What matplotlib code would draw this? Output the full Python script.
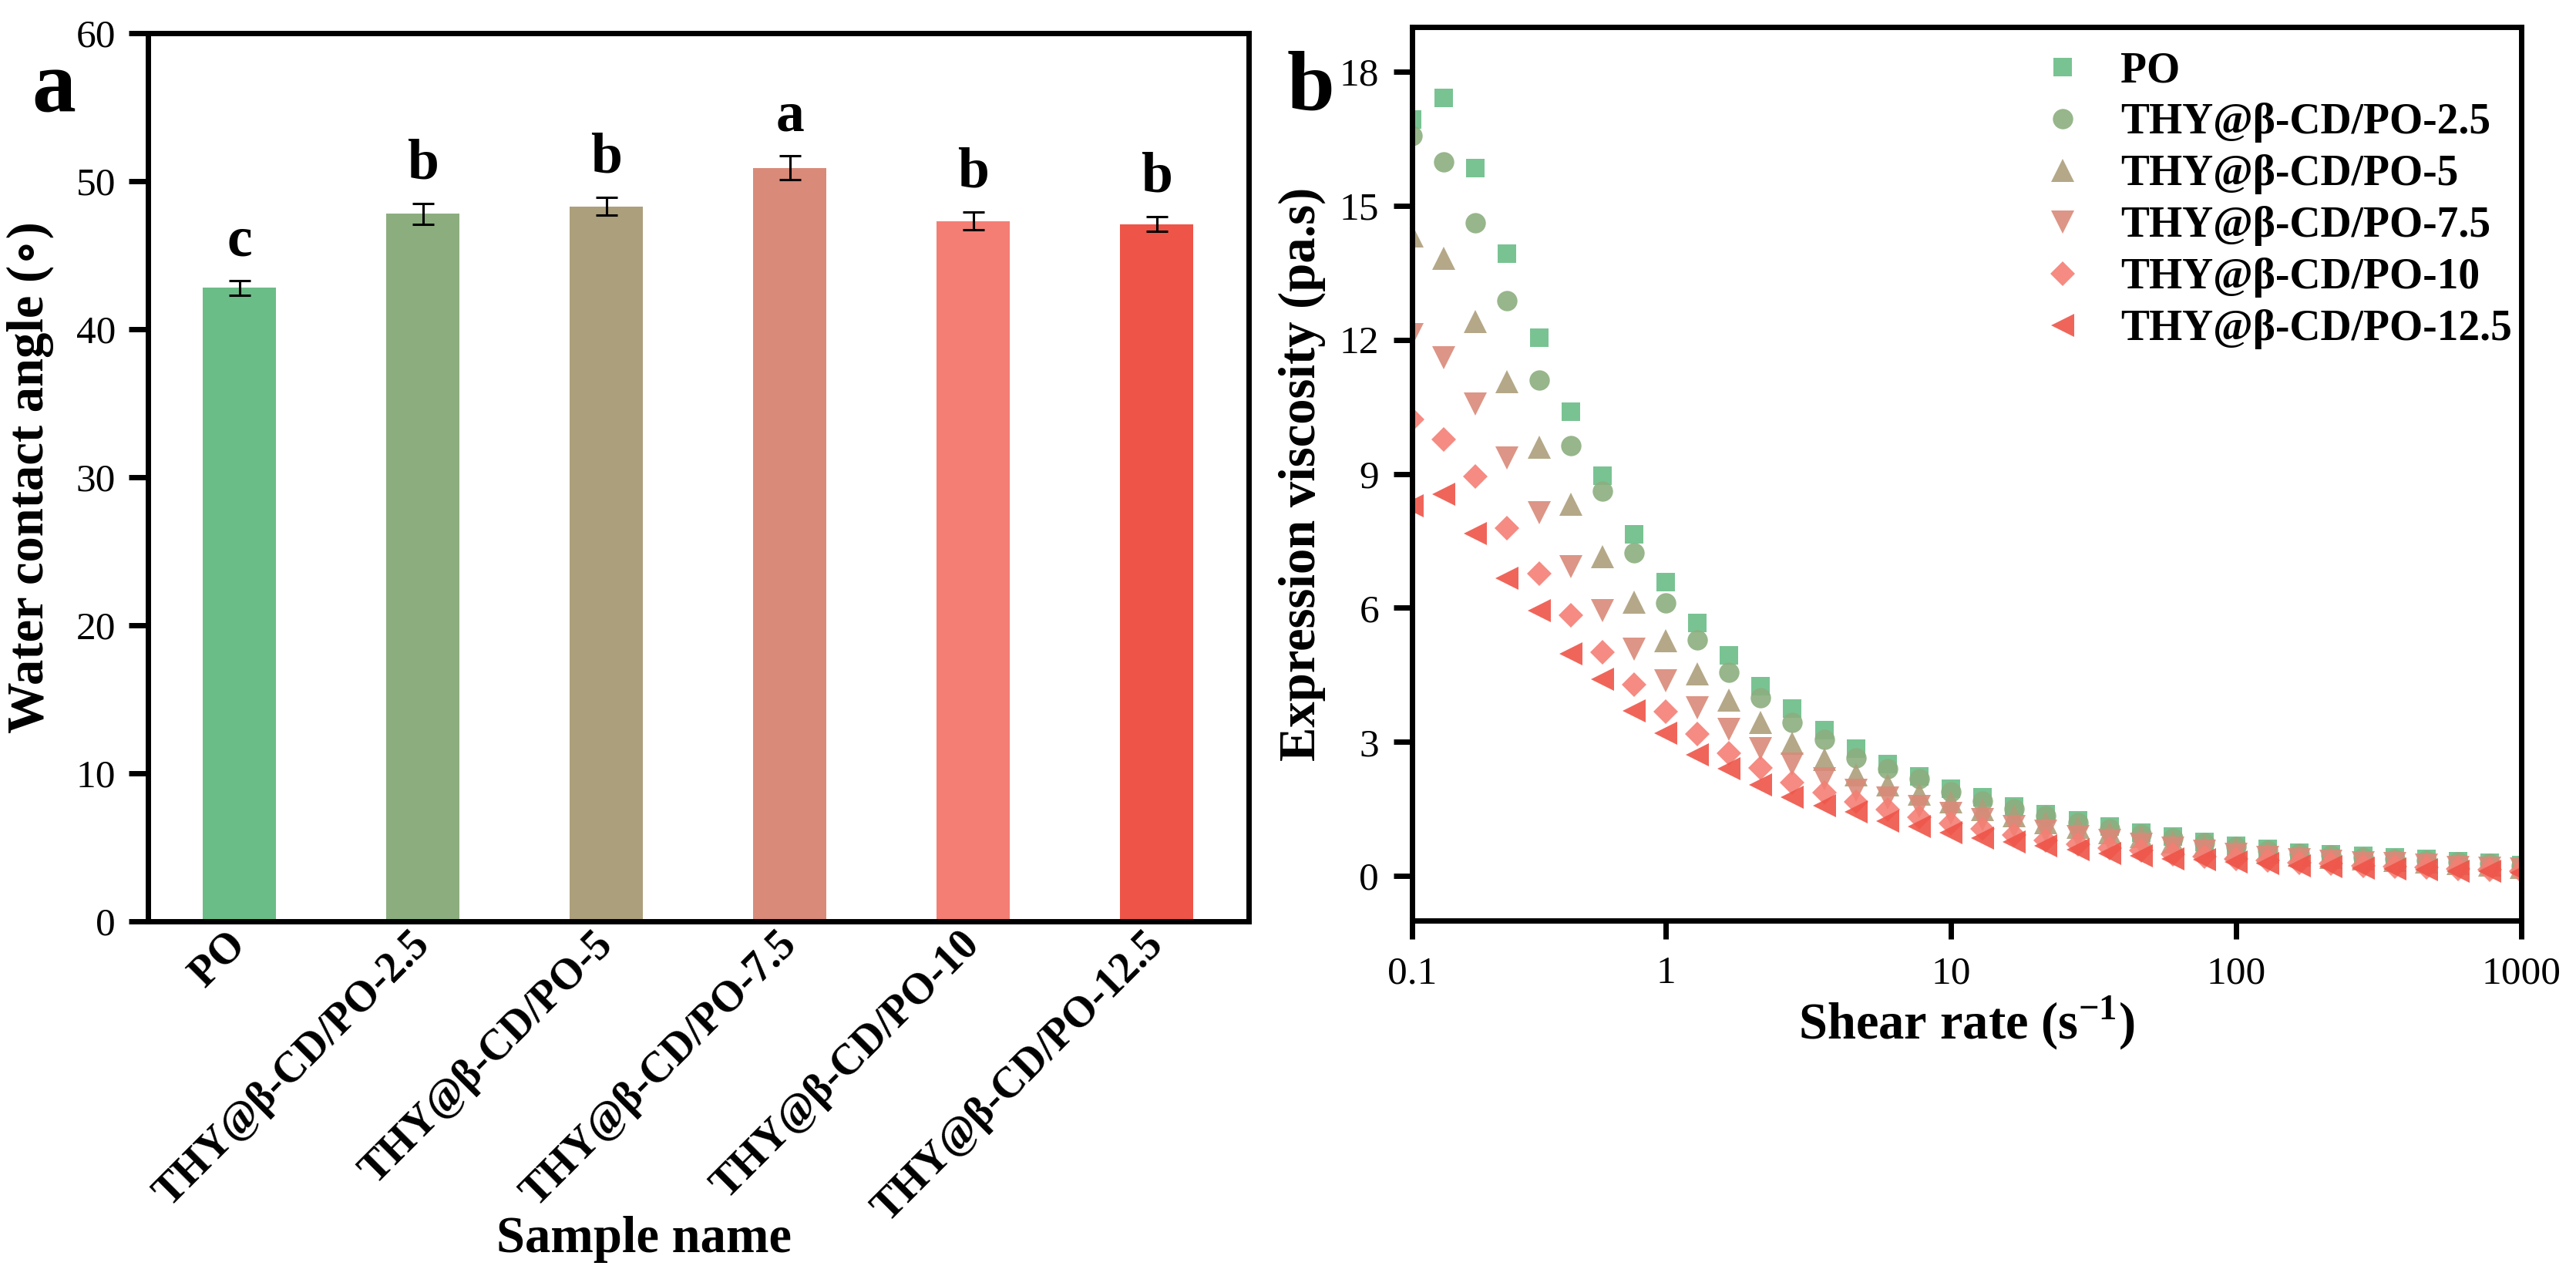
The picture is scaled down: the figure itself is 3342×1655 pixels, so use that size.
import numpy as np
import matplotlib
matplotlib.use("Agg")
import matplotlib.pyplot as plt
from matplotlib.ticker import NullLocator, FixedLocator, FixedFormatter

plt.rcParams['font.family'] = ['Liberation Serif', 'DejaVu Serif']
plt.rcParams['mathtext.fontset'] = 'custom'
plt.rcParams['mathtext.rm'] = 'Liberation Serif'
plt.rcParams['mathtext.bf'] = 'Liberation Serif:bold'

# ---- panel a: water contact angle ----
samples = ['PO', 'THY@β-CD/PO-2.5', 'THY@β-CD/PO-5', 'THY@β-CD/PO-7.5',
           'THY@β-CD/PO-10', 'THY@β-CD/PO-12.5']
angle = [42.8, 47.8, 48.3, 50.9, 47.3, 47.1]
angle_err = [0.5, 0.7, 0.6, 0.8, 0.6, 0.5]
sig_letters = ['c', 'b', 'b', 'a', 'b', 'b']
colors = ['#6bbd87', '#8cae7f', '#ac9f7b', '#d98a79', '#f47e74', '#ef5448']

# ---- panel b: viscosity vs shear rate ----
shear_rate = [0.1292, 0.1668, 0.2154, 0.2783, 0.3594, 0.4642, 0.5995, 0.7743,
              1.0, 1.292, 1.668, 2.154, 2.783, 3.594, 4.642, 5.995, 7.743,
              10.0, 12.92, 16.68, 21.54, 27.83, 35.94, 46.42, 59.95, 77.43,
              100.0, 129.2, 166.8, 215.4, 278.3, 359.4, 464.2, 599.5, 774.3,
              1000.0]
visc_po = [16.93, 17.41, 15.85, 13.92, 12.04, 10.39, 8.95, 7.65, 6.58, 5.67,
           4.93, 4.24, 3.74, 3.26, 2.85, 2.51, 2.22, 1.95, 1.76, 1.56, 1.39,
           1.25, 1.10, 0.97, 0.88, 0.77, 0.68, 0.61, 0.52, 0.49, 0.45, 0.42,
           0.38, 0.33, 0.29, 0.25]
visc_25 = [16.56, 15.99, 14.62, 12.87, 11.10, 9.63, 8.62, 7.23, 6.11, 5.29,
           4.55, 3.98, 3.43, 3.05, 2.64, 2.40, 2.18, 1.88, 1.68, 1.50, 1.34,
           1.19, 1.05, 0.94, 0.84, 0.74, 0.65, 0.58, 0.50, 0.46, 0.42, 0.39,
           0.35, 0.31, 0.27, 0.23]
visc_5 = [14.33, 13.83, 12.41, 11.07, 9.59, 8.32, 7.14, 6.12, 5.26, 4.53,
          3.94, 3.43, 2.97, 2.61, 2.27, 2.04, 1.83, 1.66, 1.49, 1.35, 1.20,
          1.09, 0.97, 0.88, 0.77, 0.68, 0.60, 0.53, 0.46, 0.42, 0.38, 0.35,
          0.31, 0.27, 0.24, 0.20]
visc_75 = [12.11, 11.60, 10.56, 9.35, 8.13, 6.93, 5.94, 5.07, 4.36, 3.77,
           3.28, 2.85, 2.51, 2.18, 1.92, 1.75, 1.55, 1.40, 1.26, 1.11, 1.00,
           0.88, 0.80, 0.71, 0.62, 0.55, 0.48, 0.42, 0.37, 0.33, 0.30, 0.27,
           0.24, 0.20, 0.18, 0.15]
visc_10 = [10.22, 9.77, 8.94, 7.79, 6.77, 5.83, 5.01, 4.29, 3.68, 3.17,
           2.75, 2.41, 2.09, 1.87, 1.66, 1.49, 1.31, 1.17, 1.06, 0.92, 0.80,
           0.71, 0.62, 0.57, 0.48, 0.44, 0.38, 0.34, 0.30, 0.27, 0.23, 0.21,
           0.19, 0.15, 0.14, 0.11]
visc_125 = [8.29, 8.54, 7.66, 6.67, 5.93, 4.98, 4.41, 3.70, 3.19, 2.72,
            2.40, 2.04, 1.76, 1.57, 1.43, 1.23, 1.11, 0.97, 0.85, 0.77, 0.68,
            0.59, 0.51, 0.45, 0.38, 0.36, 0.31, 0.27, 0.23, 0.21, 0.17, 0.16,
            0.14, 0.10, 0.10, 0.07]
series = [visc_po, visc_25, visc_5, visc_75, visc_10, visc_125]
markers = ['s', 'o', '^', 'v', 'D', '<']
msizes = [17, 19, 21, 21, 16, 21]

fig = plt.figure(figsize=(33.42, 16.55), dpi=100)
ax1 = fig.add_axes([0.0574, 0.2779, 0.4273, 0.6961])
ax2 = fig.add_axes([0.5482, 0.2785, 0.4306, 0.7003])

lw = 5
tick_fs = 37
label_fs = 48

# panel a
xpos = np.arange(len(samples))
ax1.bar(xpos, angle, width=0.4, color=colors, zorder=2)
ax1.errorbar(xpos, angle, yerr=angle_err, fmt='none', ecolor='black',
             elinewidth=2.2, capsize=10, capthick=2.2, zorder=3)
for i in range(len(samples)):
    ax1.text(xpos[i], angle[i] + angle_err[i] + 1.7, sig_letters[i],
             ha='center', va='baseline', fontsize=53, fontweight='bold')
ax1.set_xlim(-0.5, 5.5)
ax1.set_ylim(0, 60)
ax1.set_yticks([0, 10, 20, 30, 40, 50, 60])
ax1.set_xticks(xpos)
ax1.set_xticklabels(samples, rotation=45, ha='right', va='center',
                    rotation_mode='anchor', fontsize=40, fontweight='bold')
ax1.tick_params(axis='x', length=0, pad=16)
ax1.tick_params(axis='y', direction='out', length=18, width=lw,
                labelsize=tick_fs, pad=12)
ax1.set_ylabel('Water contact angle (∘)', fontsize=label_fs, fontweight='bold')
ax1.yaxis.set_label_coords(-0.085, 0.5)

# panel b
for ys, lab, c, m, ms in zip(series, samples, colors, markers, msizes):
    ax2.plot(shear_rate, ys, linestyle='none', marker=m, markersize=ms,
             color=c, markeredgewidth=0, alpha=0.9, label=lab)
ax2.set_xscale('log')
ax2.set_xlim(shear_rate[0], shear_rate[-1])
ax2.set_ylim(-1, 19)
ax2.xaxis.set_major_locator(FixedLocator([shear_rate[0], 1, 10, 100, 1000]))
ax2.xaxis.set_major_formatter(FixedFormatter(['0.1', '1', '10', '100', '1000']))
ax2.xaxis.set_minor_locator(NullLocator())
ax2.set_yticks([0, 3, 6, 9, 12, 15, 18])
ax2.tick_params(axis='both', direction='out', length=17, width=lw,
                labelsize=tick_fs)
ax2.tick_params(axis='y', pad=14)
ax2.tick_params(axis='x', pad=16)
ax2.set_ylabel('Expression viscosity (pa.s)', fontsize=label_fs,
               fontweight='bold')
ax2.yaxis.set_label_coords(-0.078, 0.5)
ax2.set_xlabel(r'Shear rate (s$^{\mathbf{-1}}$)', fontsize=label_fs,
               fontweight='bold')
ax2.xaxis.set_label_coords(0.5, -0.083)
ax2.legend(loc='upper left', bbox_to_anchor=(0.571, 0.973), frameon=False,
           prop={'weight': 'bold', 'size': 40},
           handlelength=0.8, handletextpad=0.95, labelspacing=0.27,
           borderpad=0, borderaxespad=0)

for ax in (ax1, ax2):
    for s in ax.spines.values():
        s.set_linewidth(lw)

fig.text(835 / 3342, 1 - 1608 / 1655, 'Sample name', ha='center', va='center',
         fontsize=label_fs, fontweight='bold')
fig.text(70 / 3342, 1 - 145 / 1655, 'a', ha='center', va='baseline',
         fontsize=82, fontweight='bold')
fig.text(1700 / 3342, 1 - 143 / 1655, 'b', ha='center', va='baseline',
         fontsize=80, fontweight='bold')

fig.savefig('out.png', dpi=100)
